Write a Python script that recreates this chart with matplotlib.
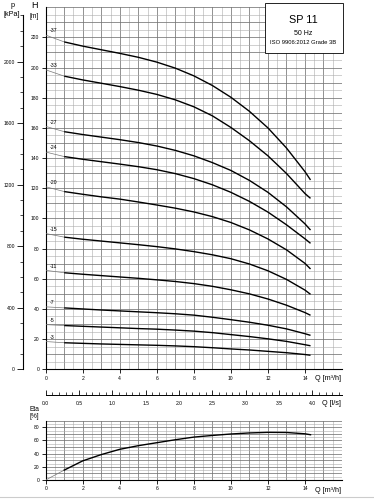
import numpy as np
import matplotlib
matplotlib.use("Agg")
import matplotlib.pyplot as plt
from matplotlib.patches import Rectangle
from matplotlib.lines import Line2D

plt.rcParams['font.family'] = ['Liberation Sans', 'DejaVu Sans']

# ---------------- data ----------------
q_pts = [0, 1, 2, 3, 4, 5, 6, 7, 8, 9, 10, 11, 12, 13, 14, 14.3]
stages = ["-37", "-33", "-27", "-24", "-20", "-15", "-11", "-7", "-5", "-3"]
h_37 = [221.5, 217, 214.2, 211.8, 209.4, 206.8, 203.6, 199.6, 194.5, 188.1, 180.3, 171, 160, 146.7, 131, 125.5]
h_33 = [198.5, 194.3, 191.8, 189.6, 187.4, 185, 182.2, 178.6, 174, 168, 160.3, 151.5, 141.5, 129.8, 116.5, 113.3]
h_27 = [161, 157.5, 155.6, 153.9, 152.2, 150.3, 148, 145.1, 141.5, 137, 131.8, 125.2, 117.3, 107.7, 96.4, 92.3]
h_24 = [144, 141, 139.2, 137.6, 136, 134.3, 132.3, 129.7, 126.4, 122.3, 117.3, 111.3, 104.2, 95.8, 86.5, 83.5]
h_20 = [121, 117.8, 116, 114.3, 112.8, 110.9, 108.9, 106.8, 104.3, 101.2, 97.3, 92.4, 86.4, 79.2, 70.2, 66.5]
h_15 = [90, 87.6, 86.2, 85, 83.8, 82.6, 81.3, 79.8, 78, 75.9, 73.3, 69.8, 65.3, 59.6, 52.5, 49.7]
h_11 = [65.6, 64, 63, 62.1, 61.2, 60.3, 59.3, 58.2, 56.8, 55, 52.7, 50, 46.6, 42.5, 37.6, 35.8]
h_7 = [41.4, 40.7, 40, 39.3, 38.7, 38.1, 37.5, 36.8, 35.9, 34.5, 32.9, 31.2, 29.2, 26.8, 23.6, 22.5]
h_5 = [29.6, 29, 28.5, 28, 27.5, 27, 26.6, 26, 25.3, 24.3, 23, 21.7, 20.2, 18.5, 16.3, 15.6]
h_3 = [18.4, 17.6, 17.2, 16.8, 16.5, 16.2, 15.9, 15.5, 15, 14.3, 13.5, 12.8, 11.9, 11, 9.8, 9.3]
heads = [h_37, h_33, h_27, h_24, h_20, h_15, h_11, h_7, h_5, h_3]

q_eta = [0, 1, 2, 3, 4, 5, 6, 7, 8, 9, 10, 11, 12, 13, 14, 14.3]
eta = [0, 15, 29, 38.5, 46.5, 52, 56.5, 61, 65, 67.5, 69.7, 71.3, 72.2, 72, 70, 68.6]

h_ticks = list(range(0, 221, 20))
kpa_ticks = [0, 400, 800, 1200, 1600, 2000]
q_ticks = [0, 2, 4, 6, 8, 10, 12, 14]
ls_ticks = [0.0, 0.5, 1.0, 1.5, 2.0, 2.5, 3.0, 3.5, 4.0]
eta_ticks = [0, 20, 40, 60, 80]

# ---------------- figure ----------------
W, H = 374, 499
fig = plt.figure(figsize=(W / 100, H / 100), dpi=100)

def fx(px):
    return px / W

def fy(py):
    return 1 - py / H

left, right = 45.7, 342.0
ax = fig.add_axes([fx(left), fy(369.3), fx(right - left), fy(7.2) - fy(369.3)])
ax.set_xlim(0, 16)
ax.set_ylim(0, 240)

grid_major = '#747474'
grid_minor = '#ababab'

def draw_grid(a, ymax, ystep_minor, ystep_major):
    for xv in np.arange(0, 16.01, 0.5):
        major = abs(xv - round(xv)) < 1e-6
        a.axvline(xv, color=grid_major if major else grid_minor,
                  lw=0.55 if major else 0.4, zorder=0)
    for yv in np.arange(0, ymax + 0.01, ystep_minor):
        major = abs(yv / ystep_major - round(yv / ystep_major)) < 1e-6
        a.axhline(yv, color=grid_major if major else grid_minor,
                  lw=0.55 if major else 0.4, zorder=0)

draw_grid(ax, 240, 5, 10)

for s in ['top', 'right']:
    ax.spines[s].set_visible(False)
for s in ['left', 'bottom']:
    ax.spines[s].set_linewidth(0.8)

ax.set_yticks(h_ticks)
ax.set_yticklabels([str(v) for v in h_ticks])
ax.set_xticks(q_ticks)
ax.set_xticklabels([str(v) for v in q_ticks])
ax.tick_params(axis='both', labelsize=3.6, length=3, width=0.6, pad=1.5)

for lab, hh in zip(stages, heads):
    qa = np.array(q_pts)
    ha = np.array(hh)
    ax.plot(qa[:2], ha[:2], color='#777777', lw=0.5, zorder=3)
    ax.plot(qa[1:], ha[1:], color='black', lw=1.0, zorder=3,
            solid_capstyle='butt', solid_joinstyle='round')
    ax.annotate(lab, (qa[0], ha[0]), xytext=(3, 1.2), textcoords='offset points',
                fontsize=3.8, ha='left', va='bottom', zorder=4)

# title box
ax.add_patch(Rectangle((0.740, 0.8725), 0.262, 0.14, transform=ax.transAxes,
                       facecolor='white', edgecolor='black', lw=0.6,
                       zorder=5, clip_on=False))
xc = (0.740 + 1.0) / 2
ax.text(xc, 0.9644, "SP 11", transform=ax.transAxes, ha='center', va='center',
        fontsize=7.8, zorder=6)
ax.text(xc, 0.9266, "50 Hz", transform=ax.transAxes, ha='center', va='center',
        fontsize=5.0, zorder=6)
ax.text(xc, 0.9017, "ISO 9906:2012 Grade 3B", transform=ax.transAxes,
        ha='center', va='center', fontsize=4.2, zorder=6)

# Q label main
fig.text(fx(341), fy(379), "Q [m³/h]", ha='right', va='center', fontsize=5.2)

# kPa axis
ax2 = ax.twinx()
ax2.set_ylim(0, 240 * 9.80665)
for s in ['top', 'right', 'bottom']:
    ax2.spines[s].set_visible(False)
ax2.spines['left'].set_position(('axes', (22.7 - left) / (right - left)))
ax2.spines['left'].set_bounds(0, 2300)
ax2.spines['left'].set_linewidth(0.8)
ax2.yaxis.set_ticks_position('left')
ax2.yaxis.set_label_position('left')
ax2.set_yticks(kpa_ticks)
ax2.set_yticklabels([str(v) for v in kpa_ticks])
ax2.set_yticks(np.arange(0, 2301, 100), minor=True)
ax2.tick_params(axis='y', which='major', labelsize=3.6, length=4, width=0.6, pad=1.5)
ax2.tick_params(axis='y', which='minor', length=2, width=0.5)

# axis header labels
fig.text(fx(13), fy(5.5), "p", ha='center', va='center', fontsize=5.2)
fig.text(fx(12), fy(14.5), "[kPa]", ha='center', va='center', fontsize=5.2)
fig.text(fx(34), fy(6), "H", ha='center', va='center', fontsize=6.5)
fig.text(fx(34), fy(16), "[m]", ha='center', va='center', fontsize=4.8)

# l/s ruler
axl = fig.add_axes([fx(left), fy(395), fx(right - left), 0.0001])
axl.set_xlim(0, 16 / 3.6)
axl.set_ylim(0, 1)
for s in ['top', 'right', 'left']:
    axl.spines[s].set_visible(False)
axl.spines['bottom'].set_linewidth(0.7)
axl.set_yticks([])
axl.patch.set_visible(False)
axl.set_xticks(ls_ticks)
axl.set_xticklabels([f"{v:.1f}" for v in ls_ticks])
axl.set_xticks(np.arange(0, 4.41, 0.1), minor=True)
axl.tick_params(axis='x', which='major', direction='in', length=3.5, width=0.6,
                labelsize=3.6, pad=4.5)
axl.tick_params(axis='x', which='minor', direction='in', length=2, width=0.5)
fig.text(fx(341), fy(403.5), "Q [l/s]", ha='right', va='center', fontsize=5.2)

# efficiency axes
axe = fig.add_axes([fx(left), fy(480), fx(right - left), fy(420.6) - fy(480)])
axe.set_xlim(0, 16)
axe.set_ylim(0, 90)
draw_grid(axe, 90, 5, 10)
for s in ['top', 'right']:
    axe.spines[s].set_visible(False)
for s in ['left', 'bottom']:
    axe.spines[s].set_linewidth(0.8)
axe.set_yticks(eta_ticks)
axe.set_yticklabels([str(v) for v in eta_ticks])
axe.set_xticks(q_ticks)
axe.set_xticklabels([str(v) for v in q_ticks])
axe.tick_params(axis='both', labelsize=3.6, length=3, width=0.6, pad=1.5)
qe = np.array(q_eta)
ee = np.array(eta)
axe.plot(qe[:2], ee[:2], color='#777777', lw=0.5, zorder=3)
axe.plot(qe[1:], ee[1:], color='black', lw=1.0, zorder=3, solid_joinstyle='round')
fig.text(fx(341), fy(490), "Q [m³/h]", ha='right', va='center', fontsize=5.2)
fig.text(fx(34), fy(409.5), "Eta", ha='center', va='center', fontsize=4.8)
fig.text(fx(34), fy(417), "[%]", ha='center', va='center', fontsize=4.8)

fig.add_artist(Line2D([0, 1], [fy(497), fy(497)], color='#cccccc', lw=0.8))

fig.savefig("out.png", dpi=100)
